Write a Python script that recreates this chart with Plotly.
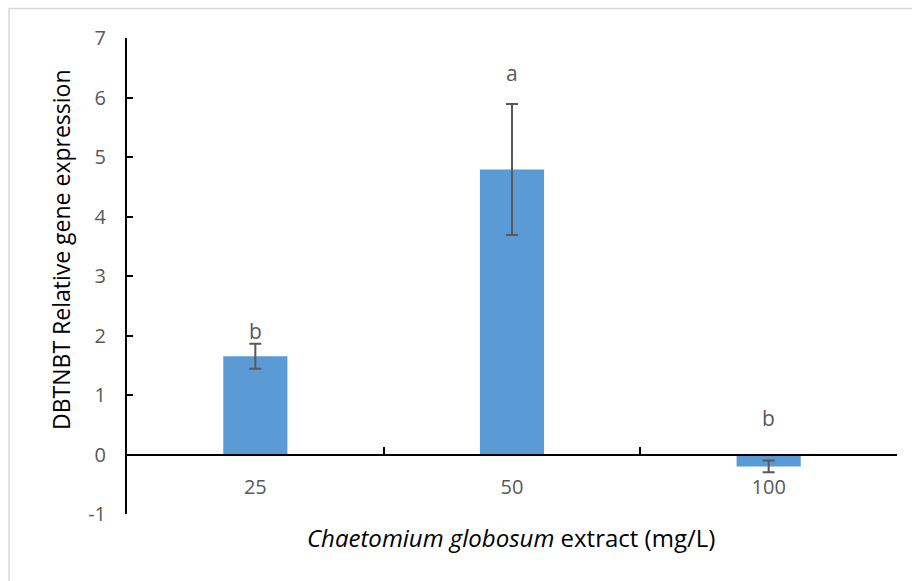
import plotly.graph_objects as go

# ---- data ----
categories = ["25", "50", "100"]
expression = [1.65, 4.79, -0.20]
error_sd = [0.21, 1.10, 0.10]
sig_letters = ["b", "a", "b"]
letter_y = [2.07, 6.42, 0.62]
y_ticks = [-1, 0, 1, 2, 3, 4, 5, 6, 7]
y_tick_text = ["-1", "0", "1", "2", "3", "4", "5", "6", "7"]

W, H = 912, 581
L, R, T, B = 127, 15, 38, 67
pw, ph = W - L - R, H - T - B

def px_x(x):
    return (x - L) / pw

def px_y(y):
    return (H - B - y) / ph

FONT = "Open Sans"
GRAY = "#595959"

fig = go.Figure()
fig.add_trace(go.Bar(
    x=categories, y=expression,
    marker=dict(color="#5B9BD5", line=dict(width=0)),
    error_y=dict(type="data", array=error_sd, visible=True,
                 color=GRAY, thickness=2, width=6),
    width=0.25,
))

for i, (t, yv) in enumerate(zip(sig_letters, letter_y)):
    fig.add_annotation(x=i, y=yv, text=t, showarrow=False, xref="x", yref="y",
                       font=dict(family=FONT, size=21, color=GRAY),
                       xanchor="center", yanchor="middle")

ymin, ymax = y_ticks[0], y_ticks[-1]
fig.update_layout(
    width=W, height=H,
    margin=dict(l=L, r=R, t=T, b=B),
    plot_bgcolor="white", paper_bgcolor="white",
    showlegend=False,
    font=dict(family=FONT, size=20, color=GRAY),
    xaxis=dict(type="category", range=[-0.5, 2.5], anchor="free",
               position=(0 - ymin) / (ymax - ymin),
               showline=True, linecolor="black", linewidth=2,
               ticks="inside", tickson="boundaries", ticklen=7, tickwidth=2,
               tickcolor="black", showgrid=False, zeroline=False,
               ticklabelstandoff=14,
               tickfont=dict(family=FONT, size=20, color=GRAY)),
    yaxis=dict(range=[ymin, ymax], tickvals=y_ticks, ticktext=y_tick_text,
               showline=True,
               linecolor="black", linewidth=2, ticks="inside", ticklen=6,
               tickwidth=2, tickcolor="black", showgrid=False, zeroline=False,
               ticklabelstandoff=15,
               tickfont=dict(family=FONT, size=20, color=GRAY)),
)

fig.add_annotation(xref="paper", yref="paper", x=px_x(511), y=px_y(537),
                   text="<i>Chaetomium globosum</i> extract (mg/L)", showarrow=False,
                   font=dict(family=FONT, size=24, color="black"),
                   xanchor="center", yanchor="middle")
fig.add_annotation(xref="paper", yref="paper", x=px_x(61), y=px_y(250),
                   text="DBTNBT Relative gene expression", showarrow=False, textangle=-90,
                   font=dict(family=FONT, size=23, color="black"),
                   xanchor="center", yanchor="middle")

fig.add_shape(type="rect", xref="paper", yref="paper",
              x0=px_x(9), x1=px_x(930), y0=px_y(600), y1=px_y(8.5),
              line=dict(color="#D9D9D9", width=1.5), layer="below")

fig.write_html("out.html", config={"displayModeBar": False},
               post_script="document.body.style.margin='0';document.body.style.overflow='hidden';")
